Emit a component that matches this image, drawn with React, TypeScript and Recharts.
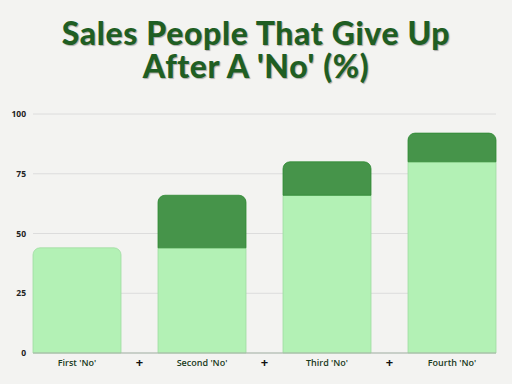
import React from 'react';
import { BarChart, Bar, XAxis, YAxis, CartesianGrid, Rectangle } from 'recharts';

const categories = ["First 'No'", '+', "Second 'No'", '+', "Third 'No'", '+', "Fourth 'No'"];
const baseValues: (number | null)[] = [44, null, 44, null, 66, null, 80];
const addedValues: (number | null)[] = [0, null, 22, null, 14, null, 12];
const yTicks = [0, 25, 50, 75, 100];

const data = categories.map((name, i) => ({ name, base: baseValues[i], added: addedValues[i] }));

const LIGHT = '#b3f1b5';
const DARK = '#46944a';
const BAR_W = 88;

const XTick = (props: any) => {
  const { x, y, payload } = props;
  const plus = payload.value === '+';
  return (
    <text
      x={x}
      y={y + 1}
      textAnchor="middle"
      dominantBaseline="central"
      fill={plus ? '#111' : '#1a3a1c'}
      fontFamily="'Open Sans', sans-serif"
      fontWeight={plus ? 700 : 600}
      fontSize={plus ? 13 : 9}
    >
      {payload.value}
    </text>
  );
};

const widen = (props: any) => ({ ...props, x: props.x + props.width / 2 - BAR_W / 2, width: BAR_W });

const baseShape = (props: any) => {
  const top = !props.payload || !props.payload.added;
  return (
    <Rectangle
      {...widen(props)}
      fill={LIGHT}
      stroke="#9fdca2"
      strokeWidth={0.8}
      radius={top ? [7, 7, 0, 0] : 0}
    />
  );
};

const addedShape = (props: any) => (
  <Rectangle {...widen(props)} fill={DARK} stroke="#2f8a33" strokeWidth={0.8} radius={[7, 7, 0, 0]} />
);

const titleStyle: React.CSSProperties = {
  position: 'absolute',
  left: 0,
  width: 512,
  textAlign: 'center',
  fontFamily: 'Lato, sans-serif',
  fontWeight: 900,
  fontSize: 32,
  letterSpacing: 0.6,
  lineHeight: '33px',
  color: '#1f5e23',
  textShadow: '1px 1px 1px rgba(0,0,0,0.3)',
  whiteSpace: 'nowrap',
};

export default function App() {
  return (
    <div style={{ position: 'absolute', left: 0, top: 0, width: 512, height: 384, background: '#f3f3f1' }}>
      <div style={{ ...titleStyle, top: 16 }}>Sales People That Give Up</div>
      <div style={{ ...titleStyle, top: 49 }}>After A 'No' (%)</div>
      <div style={{ position: 'absolute', left: 0, top: 0 }}>
        <BarChart width={512} height={384} data={data} margin={{ top: 114, right: 16, bottom: 0, left: 0 }}>
          <CartesianGrid vertical={false} stroke="#dcdcdc" />
          <YAxis
            width={33}
            domain={[0, 100]}
            ticks={yTicks}
            axisLine={false}
            tickLine={false}
            tickSize={0}
            tickMargin={7}
            tick={{ fontSize: 8.5, fontWeight: 700, fill: '#222', fontFamily: "'Open Sans', sans-serif" }}
          />
          <XAxis
            dataKey="name"
            height={31}
            padding={{ left: 12.75, right: 12.75 }}
            axisLine={{ stroke: '#a9b7a9' }}
            tickLine={false}
            interval={0}
            tick={<XTick />}
          />
          <Bar dataKey="base" stackId="a" isAnimationActive={false} shape={baseShape} />
          <Bar dataKey="added" stackId="a" isAnimationActive={false} shape={addedShape} />
        </BarChart>
      </div>
    </div>
  );
}
